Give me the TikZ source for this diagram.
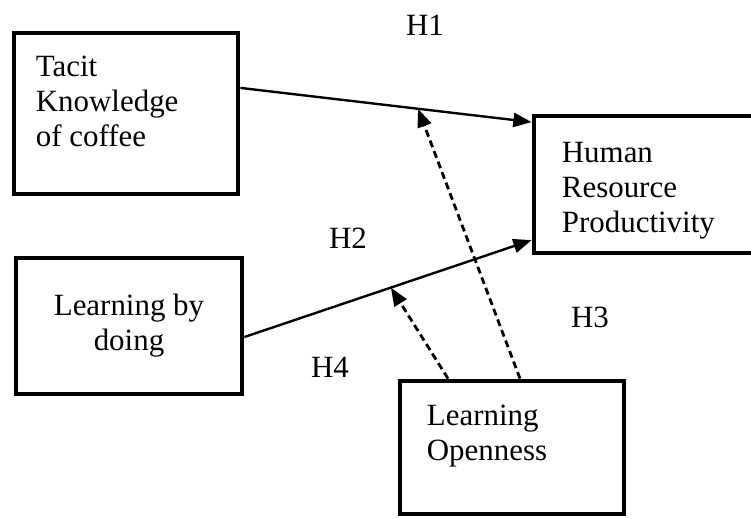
\documentclass[tikz,border=0pt]{standalone}
\usepackage{fontspec}
\setmainfont{Liberation Serif}
\usetikzlibrary{positioning,calc,arrows.meta}

\tikzset{
  varbox/.style={draw, line width=3.4pt, rectangle, inner sep=0pt},
  vartext/.style={inner sep=0pt, align=left, anchor=north west},
  effect/.style={line width=1.7pt, -{Triangle[length=13pt,width=10pt]}},
  moderate/.style={effect, line width=2pt, dash pattern=on 5pt off 3pt},
  hyp/.style={inner sep=0pt}
}

\begin{document}
\begin{tikzpicture}[font=\fontsize{22}{25}\selectfont]
    \useasboundingbox (0,0) rectangle (18.775,12.95);

    % Boxes
    \node[varbox, minimum width=5.6cm, minimum height=4.025cm] (tacit) at (3.15,10.1125) {};
    \node[varbox, minimum width=5.775cm, minimum height=3.425cm] (hrp) at (16.2375,8.3375) {};
    \node[varbox, minimum width=5.65cm, minimum height=3.4cm, align=center] (doing) at (3.225,4.8) {Learning by\\doing};
    \node[varbox, minimum width=5.6cm, minimum height=3.325cm] (open) at (12.8,1.7625) {};

    % Box texts
    \node[vartext] (tacittext) at ($(tacit.north west)+(0.6,-0.625)$) {Tacit\\Knowledge\\of coffee};
    \node[vartext] (hrptext) at ($(hrp.north west)+(0.75,-0.7)$) {Human\\Resource\\Productivity};
    \node[vartext] (opentext) at ($(open.north west)+(0.725,-0.65)$) {Learning\\Openness};

    % Direct effects
    \draw[effect] ([yshift=0.64cm]tacit.east) -- ([yshift=1.56cm]hrp.west) coordinate[pos=0.61] (m1);
    \draw[effect] ([yshift=-0.275cm]doing.east) -- ([yshift=-1.39cm]hrp.west) coordinate[pos=0.51] (m2);

    % Moderation
    \draw[moderate] ([xshift=0.2cm]open.north) -- (m1);
    \draw[moderate] ([xshift=-1.6cm]open.north) -- (m2);

    % Hypotheses
    \node[hyp] (h1) at (10.625,12.325) {H1};
    \node[hyp] (h2) at (8.7,7.0) {H2};
    \node[hyp] (h3) at (14.75,5.025) {H3};
    \node[hyp] (h4) at (8.25,3.775) {H4};
\end{tikzpicture}
\end{document}
